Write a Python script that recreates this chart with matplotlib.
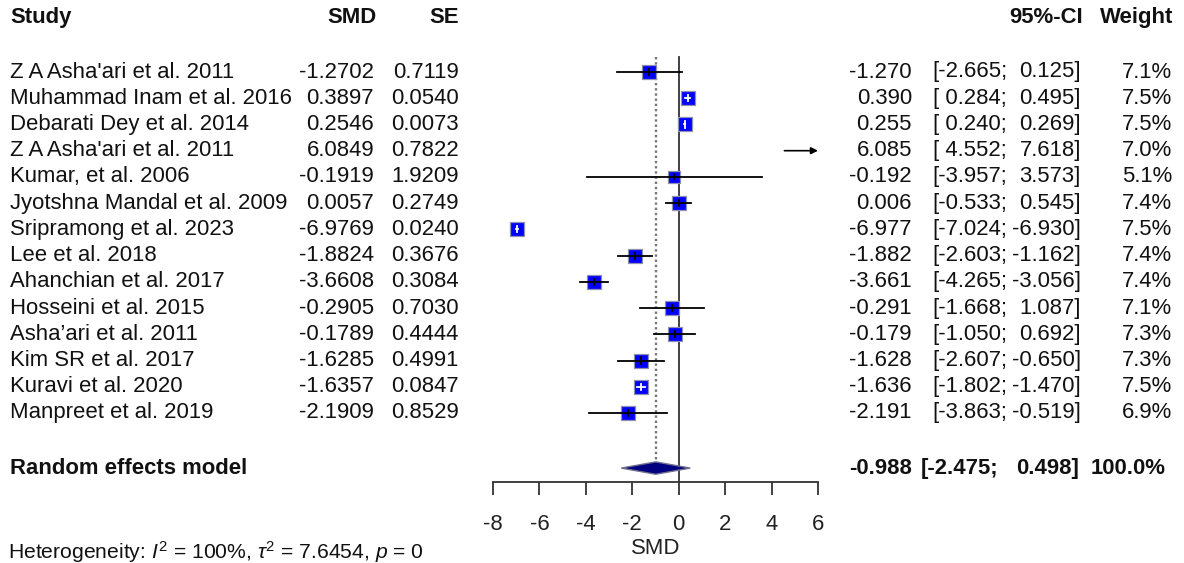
import numpy as np
import matplotlib
matplotlib.use("Agg")
import matplotlib.pyplot as plt
from matplotlib.transforms import blended_transform_factory

plt.rcParams['font.family'] = ['Liberation Sans', 'DejaVu Sans']
plt.rcParams['axes.unicode_minus'] = False
plt.rcParams['mathtext.fontset'] = 'custom'
plt.rcParams['mathtext.rm'] = 'Liberation Sans'
plt.rcParams['mathtext.it'] = 'Liberation Sans:italic'

studies = ["Z A Asha'ari et al. 2011", "Muhammad Inam et al. 2016",
           "Debarati Dey et al. 2014", "Z A Asha'ari et al. 2011",
           "Kumar, et al. 2006", "Jyotshna Mandal et al. 2009",
           "Sripramong et al. 2023", "Lee et al. 2018",
           "Ahanchian et al. 2017", "Hosseini et al. 2015",
           "Asha\u2019ari et al. 2011", "Kim SR et al. 2017",
           "Kuravi et al. 2020", "Manpreet et al. 2019"]
smd = [-1.2702, 0.3897, 0.2546, 6.0849, -0.1919, 0.0057, -6.9769,
       -1.8824, -3.6608, -0.2905, -0.1789, -1.6285, -1.6357, -2.1909]
se = [0.7119, 0.0540, 0.0073, 0.7822, 1.9209, 0.2749, 0.0240,
      0.3676, 0.3084, 0.7030, 0.4444, 0.4991, 0.0847, 0.8529]
est = [-1.270, 0.390, 0.255, 6.085, -0.192, 0.006, -6.977,
       -1.882, -3.661, -0.291, -0.179, -1.628, -1.636, -2.191]
ci_lo = [-2.665, 0.284, 0.240, 4.552, -3.957, -0.533, -7.024,
         -2.603, -4.265, -1.668, -1.050, -2.607, -1.802, -3.863]
ci_hi = [0.125, 0.495, 0.269, 7.618, 3.573, 0.545, -6.930,
         -1.162, -3.056, 1.087, 0.692, -0.650, -1.470, -0.519]
weights = [7.1, 7.5, 7.5, 7.0, 5.1, 7.4, 7.5, 7.4, 7.4, 7.1, 7.3, 7.3, 7.5, 6.9]

re_est, re_lo, re_hi, re_weight = -0.988, -2.475, 0.498, 100.0
tau2 = 7.6454
x_ticks = [-8, -6, -4, -2, 0, 2, 4, 6]

W, H = 1184, 563
ROW = 26.23      # pixels per row
Y0 = 72          # pixel of first study row
XMIN, XMAX = -8, 6
PX_PER_UNIT = 325 / (XMAX - XMIN)
FS = 15.9

fig = plt.figure(figsize=(W / 100, H / 100), dpi=100)
ax = fig.add_axes([493 / W, 0, 325 / W, 1])
ax.set_xlim(XMIN, XMAX)
ax.set_ylim((H - Y0) / ROW, -Y0 / ROW)

for s in ['left', 'right', 'top']:
    ax.spines[s].set_visible(False)
axis_y = 15.63
ax.spines['bottom'].set_position(('data', axis_y))
ax.spines['bottom'].set_linewidth(1.3)
ax.spines['bottom'].set_color('#333333')
ax.set_yticks([])
ax.set_xticks(x_ticks)
ax.tick_params(axis='x', direction='out', length=9.4, width=1.3,
               color='#333333', labelsize=FS, pad=13.5, labelcolor='#222222')

rows = np.arange(len(studies))
re_row = 15.1

# reference lines: no effect and pooled estimate
ax.plot([0, 0], [-0.57, axis_y], color='#333333', lw=1.3, zorder=1)
ax.plot([re_est, re_est], [-0.57, re_row - 0.2], color='#777777', lw=1.7,
        ls=(0, (1, 1.2)), zorder=1)

for i, (m, lo, hi, w) in enumerate(zip(est, ci_lo, ci_hi, weights)):
    side_px = 14.0 * np.sqrt(w / 7.5)
    if XMIN <= m <= XMAX:
        ax.scatter(m, i, marker='s', s=(side_px * 0.72) ** 2,
                   facecolor='#0000FF', edgecolor='#9090b0', linewidth=0.9,
                   zorder=3)
        # CI drawn white when it fits inside the box
        inside = (hi - lo) * PX_PER_UNIT < side_px
        col = 'white' if inside else 'black'
        ax.plot([max(lo, XMIN), min(hi, XMAX)], [i, i], color=col, lw=1.3,
                zorder=4)
        half = side_px * 0.22 / ROW
        ax.plot([m, m], [i - half, i + half], color=col, lw=1.3, zorder=4)
    else:
        ax.annotate('', xy=(XMAX, i), xytext=(lo, i),
                    arrowprops=dict(arrowstyle='-|>', color='black', lw=1.2,
                                    mutation_scale=10, shrinkA=0, shrinkB=0))

# pooled diamond
dh = 6.2 / ROW
ax.fill([re_lo, re_est, re_hi, re_est], [re_row, re_row - dh, re_row, re_row + dh],
        facecolor='#000080', edgecolor='#707090', lw=1.0, zorder=3)

# text columns
tr = blended_transform_factory(fig.transFigure, ax.transData)


def put(px, y, s, ha='left', bold=False, size=FS):
    ax.text(px / W, y, s, transform=tr, ha=ha, va='center',
            fontsize=size, fontweight='bold' if bold else 'normal',
            color='#111111', clip_on=False)


hdr = -2.06
put(10, hdr, 'Study', bold=True)
put(377, hdr, 'SMD', ha='right', bold=True)
put(459, hdr, 'SE', ha='right', bold=True)
put(1083, hdr, '95%-CI', ha='right', bold=True)
put(1173, hdr, 'Weight', ha='right', bold=True)

for i in rows:
    put(10, i, studies[i])
    put(374, i, f'{smd[i]:.4f}', ha='right')
    put(459, i, f'{se[i]:.4f}', ha='right')
    put(912, i, f'{est[i]:.3f}', ha='right')
    lo_txt = f'{ci_lo[i]:.3f}' if ci_lo[i] < 0 else f' {ci_lo[i]:.3f}'
    put(1007, i, f'[{lo_txt};', ha='right')
    put(1081, i, f'{ci_hi[i]:.3f}]', ha='right')
    put(1172, i, f'{weights[i]:.1f}%', ha='right')

put(10, re_row, 'Random effects model', bold=True)
put(912, re_row, f'{re_est:.3f}', ha='right', bold=True)
put(998, re_row, f'[{re_lo:.3f};', ha='right', bold=True)
put(1079, re_row, f'{re_hi:.3f}]', ha='right', bold=True)
put(1166, re_row, f'{re_weight:.1f}%', ha='right', bold=True)

ax.text((XMIN + XMAX) / 2, 18.15, 'SMD', ha='center', va='center',
        fontsize=FS, color='#222222', clip_on=False)
put(8, 18.3, r'Heterogeneity: $I^2$ = 100%, $\tau^2$ = ' + f'{tau2:.4f}' + r', $p$ = 0',
    size=15.2)

fig.savefig('out.png', dpi=100)
